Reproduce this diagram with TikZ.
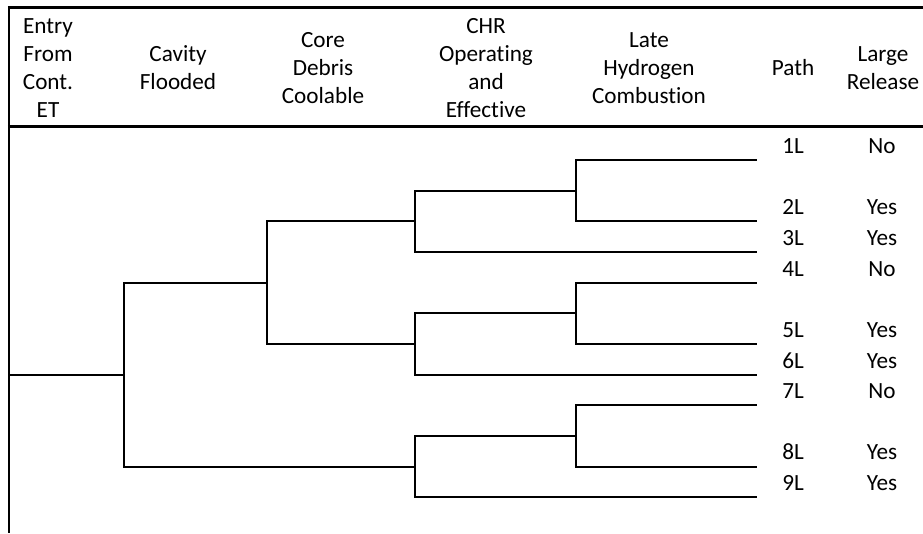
\documentclass[tikz,border=0pt]{standalone}
\usepackage{fontspec}
\setmainfont{Carlito}[Ligatures=NoCommon]
\begin{document}
\begin{tikzpicture}[x=1pt,y=-1pt,
  rule/.style={line width=3pt},
  frame/.style={line width=2.2pt},
  branch/.style={line width=2pt, line join=miter},
  head/.style={align=center, inner sep=0pt, font=\fontsize{23.2}{28.3}\selectfont},
  lbl/.style={anchor=base, inner sep=0pt, font=\fontsize{23.2}{28.3}\selectfont}]
\useasboundingbox (0,0) rectangle (923,533);

% frame: top rule, header rule and left edge
\coordinate (tl) at (7.9,7.5);
\coordinate (tr) at (923,7.5);
\coordinate (hl) at (7.9,126.7);
\coordinate (hr) at (923,126.7);
\coordinate (lt) at (9,6);
\coordinate (lb) at (9,533);
\draw[rule] (tl) -- (tr);
\draw[rule] (hl) -- (hr);
\draw[frame] (lt) -- (lb);

% column headings
\node[head] (hEntry) at (48,69.8)  {\strut Entry\\\strut From\\\strut Cont.\\\strut ET};
\node[head] (hCav)   at (178,69.8) {\strut Cavity\\\strut Flooded};
\node[head] (hCore)  at (323,69.8) {\strut Core\\\strut Debris\\\strut Coolable};
\node[head] (hChr)   at (486,69.8) {\strut CHR\\\strut Operating\\\strut and\\\strut Effective};
\node[head] (hLate)  at (649,69.8) {\strut Late\\\strut Hydrogen\\\strut Combustion};
\node[head] (hPath)  at (793,69.8) {\strut Path};
\node[head] (hRel)   at (883,69.8) {\strut Large\\\strut Release};

% branch points
\coordinate (in)   at (9,375);
\coordinate (cav)  at (124,375);
\coordinate (core) at (267,283);
\coordinate (c1)   at (415,221);
\coordinate (c2)   at (415,344);
\coordinate (c3)   at (415,467);
\coordinate (d1)   at (576,191);
\coordinate (d2)   at (576,313);
\coordinate (d3)   at (576,436);

% sequence ends
\coordinate (e1) at (757,160);
\coordinate (e2) at (757,221);
\coordinate (e3) at (757,252);
\coordinate (e4) at (757,283);
\coordinate (e5) at (757,344);
\coordinate (e6) at (757,375);
\coordinate (e7) at (757,405);
\coordinate (e8) at (757,467);
\coordinate (e9) at (757,497);

% event tree
\draw[branch] (in) -- (cav);
\draw[branch] (cav) |- (core);
\draw[branch] (cav) |- (c3);
\draw[branch] (core) |- (c1);
\draw[branch] (core) |- (c2);
\draw[branch] (c1) |- (d1);
\draw[branch] (c1) |- (e3);
\draw[branch] (c2) |- (d2);
\draw[branch] (c2) |- (e6);
\draw[branch] (c3) |- (d3);
\draw[branch] (c3) |- (e9);
\draw[branch] (d1) |- (e1);
\draw[branch] (d1) |- (e2);
\draw[branch] (d2) |- (e4);
\draw[branch] (d2) |- (e5);
\draw[branch] (d3) |- (e7);
\draw[branch] (d3) |- (e8);

% path names and outcomes
\foreach \n/\y/\r in {1/153/No,2/214/Yes,3/245/Yes,4/276/No,5/337/Yes,6/368/Yes,7/398/No,8/459/Yes,9/490/Yes}{
  \node[lbl] (p\n) at (793,\y) {\n L};
  \node[lbl] (r\n) at (882,\y) {\r};
}
\end{tikzpicture}
\end{document}
